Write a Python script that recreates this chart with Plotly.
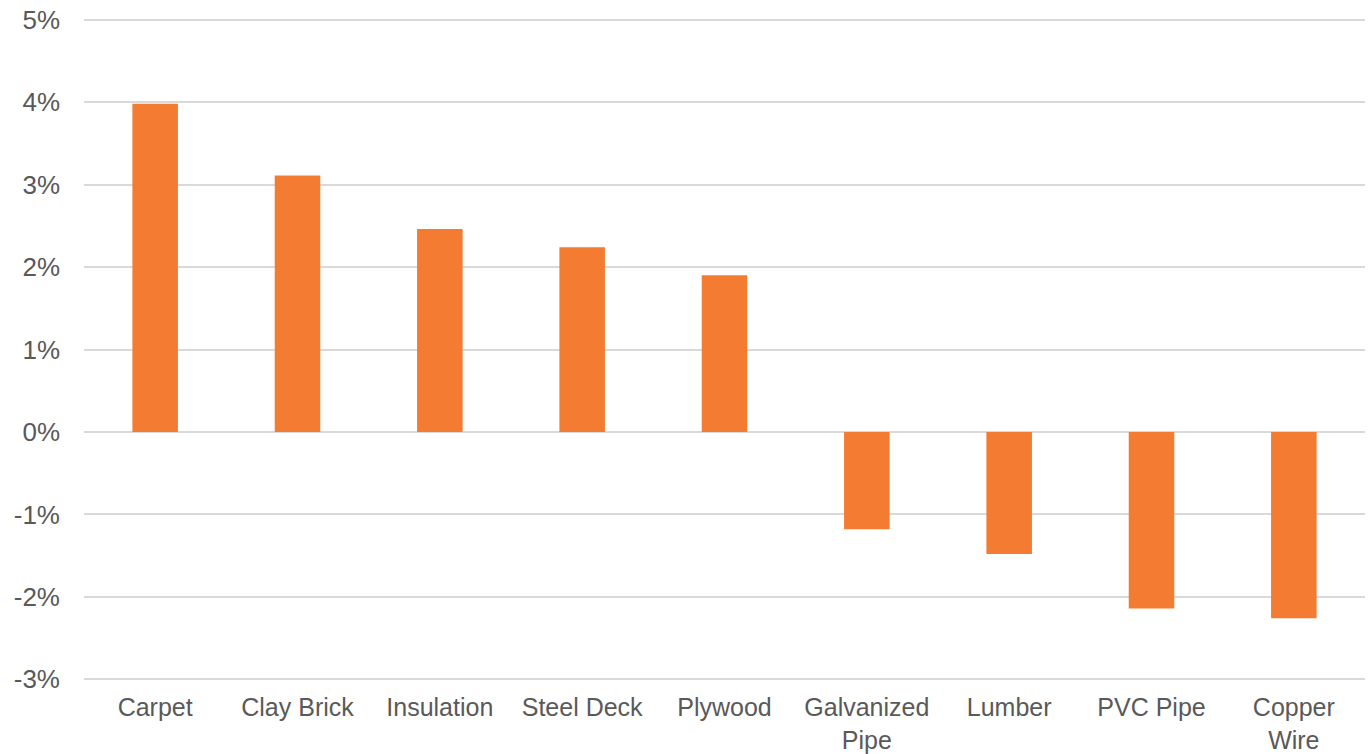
import plotly.graph_objects as go

categories = ["Carpet", "Clay Brick", "Insulation", "Steel Deck", "Plywood",
              "Galvanized<br>Pipe", "Lumber", "PVC Pipe", "Copper<br>Wire"]
values = [3.98, 3.11, 2.46, 2.24, 1.90, -1.18, -1.48, -2.14, -2.26]
y_tickvals = [-3, -2, -1, 0, 1, 2, 3, 4, 5]
y_ticktext = ["-3%", "-2%", "-1%", "0%", "1%", "2%", "3%", "4%", "5%"]

fig = go.Figure(go.Bar(
    x=categories, y=values,
    marker=dict(color="#F37C32", line=dict(width=0)),
    hovertemplate="%{x}: %{y:.2f}%<extra></extra>",
))

fig.update_layout(
    width=1372, height=754,
    paper_bgcolor="white", plot_bgcolor="white",
    margin=dict(l=84, r=7, t=18, b=73),
    bargap=0.68,
    showlegend=False,
    font=dict(family="Liberation Sans, Arial, sans-serif", size=26, color="#595959"),
)
fig.update_yaxes(
    range=[-3.02, 5.02], tickvals=y_tickvals, ticktext=y_ticktext,
    showgrid=True, gridcolor="#D9D9D9", gridwidth=1.5,
    zeroline=True, zerolinecolor="#D9D9D9", zerolinewidth=1.5,
    showline=False, ticks="", ticklabelstandoff=23, automargin=False,
    ticklabeloverflow="allow",
)
fig.update_xaxes(
    showgrid=False, showline=False, ticks="", ticklabelstandoff=9,
    automargin=False, ticklabeloverflow="allow",
    tickfont=dict(size=25),
)

fig.write_html(
    "out.html",
    config={"displayModeBar": False},
    post_script="document.body.style.margin='0';document.body.style.overflow='hidden';",
)
